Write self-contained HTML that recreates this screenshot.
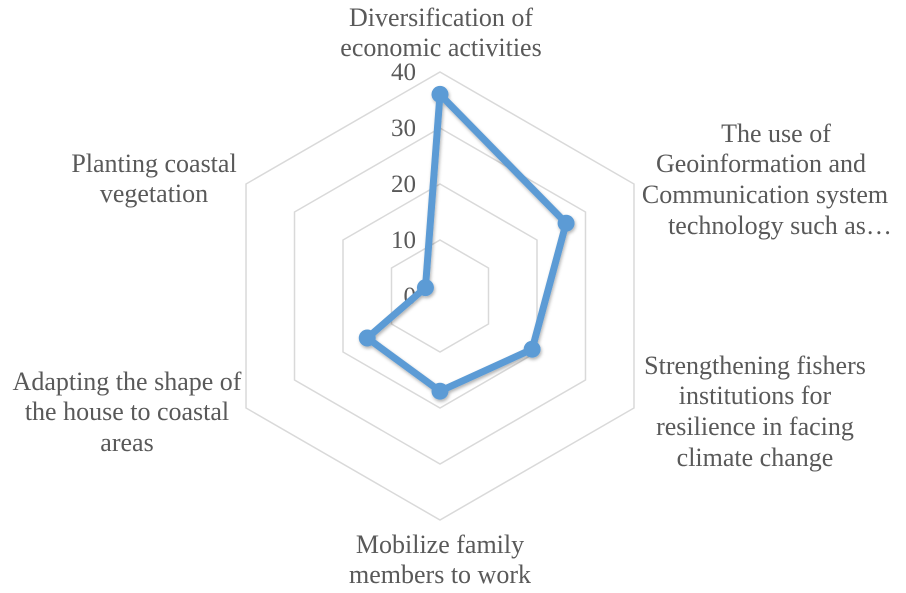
<!DOCTYPE html>
<html><head><meta charset="utf-8"><style>
body{margin:0;background:#fff}
svg{display:block;font-family:"Liberation Serif",serif;fill:#595959}
</style></head><body>
<svg id="chart" width="906" height="593" viewBox="0 0 906 593">
<defs><filter id="sh" x="-20%" y="-20%" width="140%" height="140%"><feDropShadow dx="1" dy="2" stdDeviation="1.5" flood-color="#000" flood-opacity="0.3"/></filter></defs>
<g id="grid"></g>
<g id="ticks" font-size="25" text-anchor="end"></g>
<g id="series" filter="url(#sh)"></g>
<g font-size="26" text-anchor="middle">
<text x="441" y="26">Diversification of<tspan x="441" dy="30">economic activities</tspan></text>
<text x="776" y="142">The use of<tspan x="761" dy="30">Geoinformation and</tspan><tspan x="765" dy="31">Communication system</tspan><tspan x="780" dy="31">technology such as…</tspan></text>
<text x="755" y="374">Strengthening fishers<tspan x="755" dy="30">institutions for</tspan><tspan x="755" dy="31">resilience in facing</tspan><tspan x="755" dy="31">climate change</tspan></text>
<text x="440" y="553">Mobilize family<tspan x="440" dy="30">members to work</tspan></text>
<text x="127" y="390">Adapting the shape of<tspan x="127" dy="30">the house to coastal</tspan><tspan x="127" dy="31">areas</tspan></text>
<text x="154" y="172">Planting coastal<tspan x="154" dy="30">vegetation</tspan></text>
</g>
</svg>
<script>
const categories=["Diversification of economic activities","The use of Geoinformation and Communication system technology such as…","Strengthening fishers institutions for resilience in facing climate change","Mobilize family members to work","Adapting the shape of the house to coastal areas","Planting coastal vegetation"];
const values=[36,26,19,17,15,3];
const ticks=[0,10,20,30,40];
const NS="http://www.w3.org/2000/svg";
const cx=440,cy=296,R=224,maxV=40;
function pt(i,v){const a=-Math.PI/2+i*2*Math.PI/categories.length;const r=v/maxV*R;return [cx+r*Math.cos(a),cy+r*Math.sin(a)];}
const grid=document.getElementById('grid');
ticks.forEach(t=>{if(t===0)return;
 const p=document.createElementNS(NS,'polygon');
 
 
 p.setAttribute('points',categories.map((c,i)=>pt(i,t).join(',')).join(' '));
 p.setAttribute('fill','none');p.setAttribute('stroke','#d9d9d9');p.setAttribute('stroke-width','1.5');
 grid.appendChild(p);});
const tg=document.getElementById('ticks');
ticks.forEach(t=>{const y=cy-t/maxV*R;
 const tx=document.createElementNS(NS,'text');
 
 
 tx.setAttribute('x',416);tx.setAttribute('y',y+8);tx.textContent=t;tg.appendChild(tx);});
const sg=document.getElementById('series');
const line=document.createElementNS(NS,'polygon');


line.setAttribute('points',values.map((v,i)=>pt(i,v).join(',')).join(' '));
line.setAttribute('fill','none');line.setAttribute('stroke','#5b9bd5');line.setAttribute('stroke-width','7');line.setAttribute('stroke-linejoin','round');
sg.appendChild(line);
values.forEach((v,i)=>{const [x,y]=pt(i,v);
 const c=document.createElementNS(NS,'circle');
 
 
 c.setAttribute('cx',x);c.setAttribute('cy',y);c.setAttribute('r',8.5);c.setAttribute('fill','#5b9bd5');
 sg.appendChild(c);});
</script>
</body></html>
